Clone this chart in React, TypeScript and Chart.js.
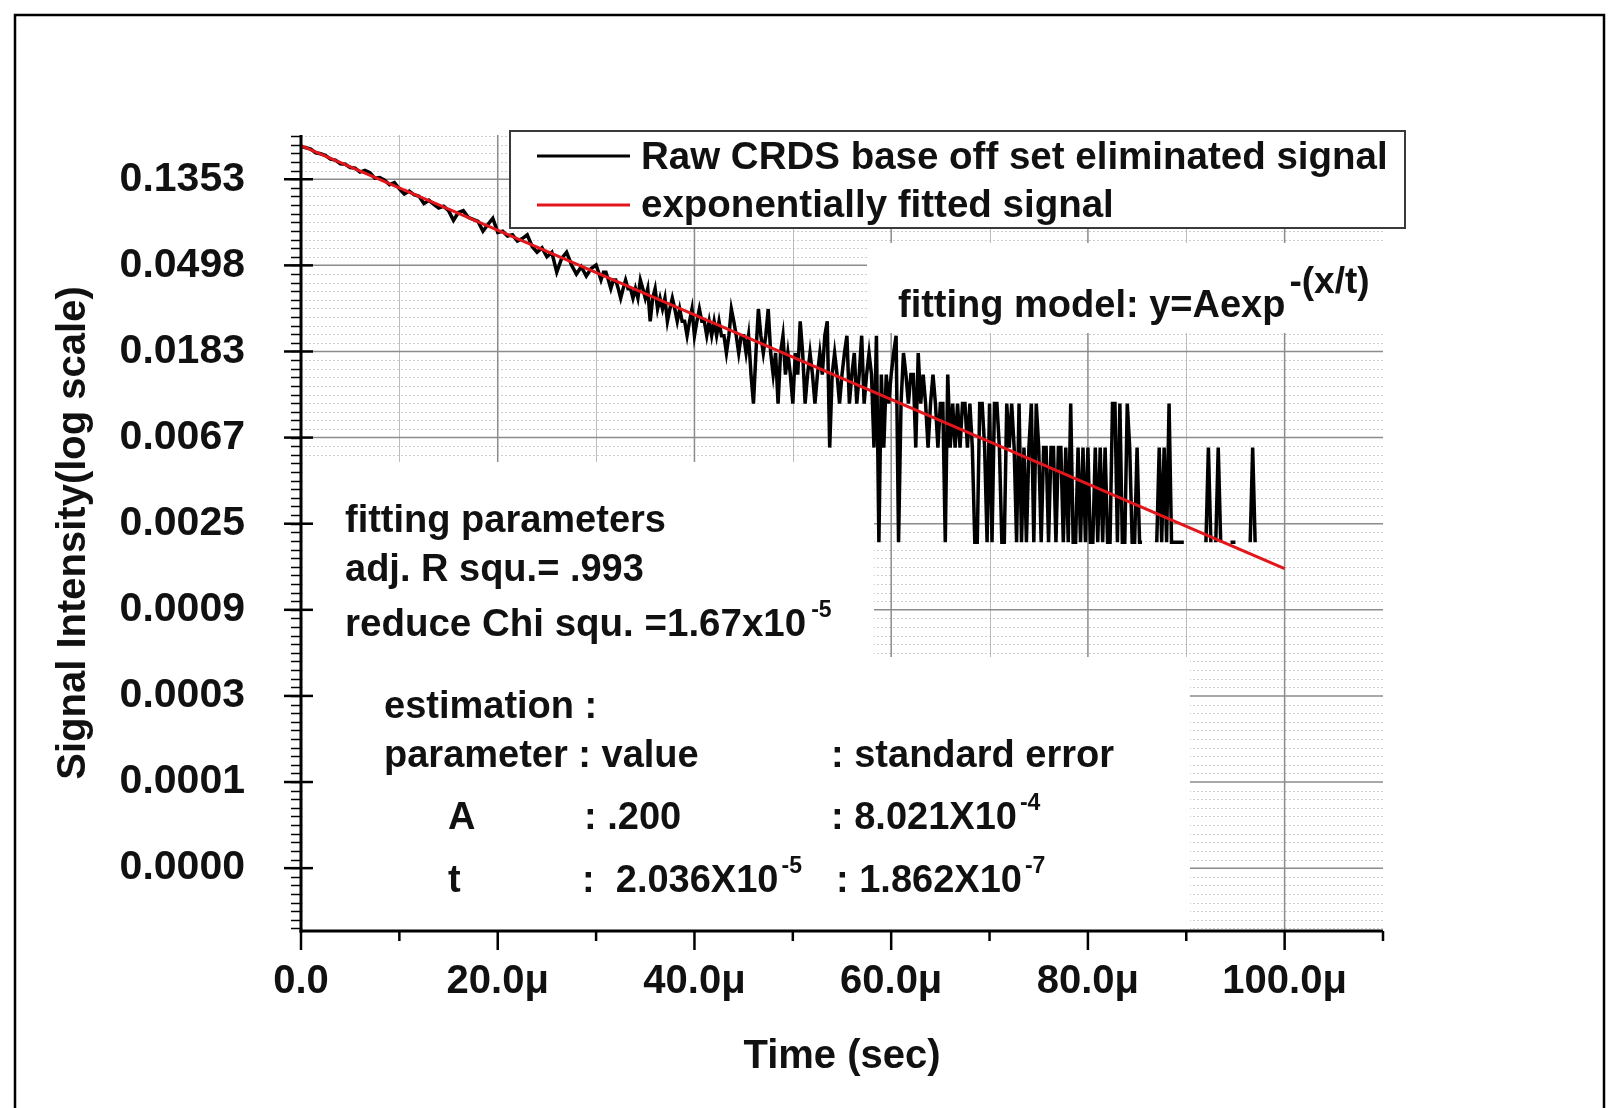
import React, { useEffect, useRef } from "react";
import { Chart, registerables } from "chart.js";

Chart.register(...registerables);

const FONT = '"Liberation Sans", Arial, Helvetica, sans-serif';
const W = 1609;
const H = 1108;

// ---------- data (time in microseconds, signal in volts-like units) ----------
const EARLY_START_US = 0;
const EARLY_STEP_US = 0.5;
const EARLY_SIGNAL = [
  0.199, 0.195, 0.192, 0.184, 0.182, 0.178, 0.171, 0.169, 0.162, 0.161,
  0.155, 0.154, 0.147, 0.150, 0.146, 0.137, 0.138, 0.134, 0.127, 0.130,
  0.121, 0.114, 0.118, 0.113, 0.111, 0.102, 0.106, 0.101, 0.097, 0.099,
  0.094, 0.084, 0.092, 0.094, 0.087, 0.085, 0.083, 0.074, 0.080, 0.086,
  0.073, 0.074, 0.070, 0.071, 0.066, 0.068, 0.071, 0.062, 0.058, 0.061,
  0.055, 0.058, 0.046, 0.054, 0.058, 0.050, 0.045, 0.049, 0.044, 0.048,
];

const LATE_START_US = 30;
const LATE_STEP_US = 0.25;
const LATE_SIGNAL: (number | null)[] = [
  0.050, 0.046, 0.042, 0.046, 0.046, 0.042, 0.038, 0.042,
  0.042, 0.038, 0.034, 0.038, 0.042, 0.038, 0.038, 0.034,
  0.038, 0.034, 0.042, 0.038, 0.034, 0.038, 0.026, 0.034,
  0.038, 0.030, 0.034, 0.030, 0.034, 0.026, 0.030, 0.034,
  0.030, 0.026, 0.030, 0.026, 0.026, 0.022, 0.026, 0.030,
  0.022, 0.026, 0.030, 0.026, 0.026, 0.022, 0.026, 0.022,
  0.026, 0.022, 0.026, 0.022, 0.022, 0.018, 0.022, 0.030,
  0.026, 0.022, 0.018, 0.022, 0.022,
  0.018, 0.022, 0.014, 0.010, 0.018, 0.030, 0.022, 0.018,
  0.022, 0.030, 0.018, 0.014, 0.018, 0.010, 0.018, 0.022,
  0.014, 0.018, 0.014, 0.010, 0.018, 0.014, 0.026, 0.018,
  0.010, 0.014, 0.018, 0.014, 0.010, 0.014, 0.018, 0.014,
  0.022, 0.026, 0.006, 0.014, 0.018, 0.014, 0.010, 0.014,
  0.018, 0.022, 0.010, 0.014, 0.018, 0.010, 0.014, 0.022,
  0.010, 0.014, 0.018, 0.014, 0.006, 0.022, 0.002, 0.014,
  0.006, 0.014, 0.010, 0.014, 0.018, 0.022, 0.002, 0.010,
  0.018, 0.014, 0.010, 0.014, 0.014, 0.006, 0.018, 0.010,
  0.014, 0.010, 0.006, 0.010, 0.014, 0.010, 0.006, 0.010,
  0.010, 0.002, 0.014, 0.006, 0.010, 0.006, 0.010, 0.006,
  0.010, 0.010, 0.006, 0.010, 0.006, 0.002, 0.002, 0.010,
  0.010, 0.006, 0.002, 0.010, 0.002, 0.010, 0.010, 0.006,
  0.002, 0.002, 0.010, 0.006, 0.010, 0.006, 0.002, 0.010,
  0.002, 0.006, 0.002, 0.006, 0.010, 0.002, 0.010, 0.006,
  0.002, 0.006, 0.006, 0.002, 0.006, 0.006, 0.002, 0.006,
  0.006, 0.002, 0.006, 0.002, 0.010, 0.002, 0.002, 0.006,
  0.002, 0.006, 0.002, 0.006, 0.002, 0.002, 0.006, 0.002,
  0.006, 0.002, 0.006, 0.002, 0.002, 0.010, 0.010, 0.002,
  0.010, 0.002, 0.002, 0.010, 0.006, 0.002, 0.002, 0.006,
  0.002, 0.002, null, null, null, null, null, 0.002,
  0.006, 0.002, 0.006, 0.002, 0.010, 0.002, 0.002, 0.002,
  0.002, 0.002, 0.002, null, null, null, null, null,
  null, null, null, 0.002, 0.006, 0.002, null, 0.002,
  0.006, 0.002, null, null, null, 0.002, 0.002, 0.002,
  null, null, null, null, null, 0.002, 0.006, 0.002,
];

// exponential fit y = A exp(-x/t), A = .200, t = 20.36 us: values at its two ends
const FIT_TIME_US = [0, 100];
const FIT_SIGNAL = [0.2, 0.00147];

// ---------- axes ----------
const X_RANGE_US = [0, 110];
const X_LABEL_TICKS = [0, 20, 40, 60, 80, 100];
const X_MINOR_TICKS = [10, 30, 50, 70, 90, 110];
const Y_RANGE_EXPONENTS = [-10.73, -1.486];
const Y_TICK_EXPONENTS = [-2, -3, -4, -5, -6, -7, -8, -9, -10];

const SERIES_LABELS = [
  "Raw CRDS base off set eliminated signal",
  "exponentially fitted signal",
];
const X_TITLE = "Time (sec)";
const Y_TITLE = "Signal Intensity(log scale)";

const bold = (size: number) => `bold ${size}px ${FONT}`;

function hLine(ctx: CanvasRenderingContext2D, x1: number, x2: number, y: number) {
  ctx.beginPath();
  ctx.moveTo(x1, y);
  ctx.lineTo(x2, y);
  ctx.stroke();
}
function vLine(ctx: CanvasRenderingContext2D, x: number, y1: number, y2: number) {
  ctx.beginPath();
  ctx.moveTo(x, y1);
  ctx.lineTo(x, y2);
  ctx.stroke();
}

function textWithSup(
  ctx: CanvasRenderingContext2D,
  text: string,
  sup: string,
  x: number,
  y: number,
  size = 38,
  supSize = 23,
  supRise = 19,
  gap = 3
) {
  ctx.font = bold(size);
  ctx.fillText(text, x, y);
  const w = ctx.measureText(text).width;
  if (sup) {
    ctx.font = bold(supSize);
    ctx.fillText(sup, x + w + gap, y - supRise);
  }
}

const decorPlugin = {
  id: "decor",
  beforeDatasetsDraw(chart: any) {
    const { ctx, chartArea: a, scales } = chart;
    const xs = scales.x;
    const ys = scales.y;
    ctx.save();
    // minor dotted horizontal grid (every 0.1 in ln units)
    ctx.strokeStyle = "#cdcdcd";
    ctx.lineWidth = 1;
    ctx.setLineDash([2, 2]);
    const k0 = Math.ceil(Y_RANGE_EXPONENTS[0] * 10);
    const k1 = Math.floor(Y_RANGE_EXPONENTS[1] * 10);
    for (let k = k0; k <= k1; k++) {
      if (k % 10 === 0) continue;
      const py = Math.round(ys.getPixelForValue(Math.exp(k / 10))) + 0.5;
      hLine(ctx, a.left, a.right, py);
    }
    ctx.setLineDash([]);
    // light vertical lines at odd multiples of 10 us
    ctx.strokeStyle = "#bdbdbd";
    ctx.lineWidth = 1;
    X_MINOR_TICKS.forEach((v) => {
      if (v >= X_RANGE_US[1]) return;
      const px = Math.round(xs.getPixelForValue(v)) + 0.5;
      vLine(ctx, px, a.top, a.bottom);
    });
    // major grid
    ctx.strokeStyle = "#8c8c8c";
    ctx.lineWidth = 1.5;
    X_LABEL_TICKS.forEach((v) => {
      if (v === 0) return;
      const px = xs.getPixelForValue(v);
      vLine(ctx, px, a.top, a.bottom);
    });
    Y_TICK_EXPONENTS.forEach((e) => {
      const py = ys.getPixelForValue(Math.exp(e));
      hLine(ctx, a.left, a.right, py);
    });
    // white backgrounds behind the annotation blocks
    ctx.fillStyle = "#ffffff";
    ctx.fillRect(a.left + 2, 462, 874 - a.left - 2, a.bottom - 462 - 1);
    ctx.fillRect(874, 657, 1190 - 874, a.bottom - 657 - 1);
    ctx.fillRect(867, 243, a.right - 867 + 2, 333 - 243);
    ctx.restore();
  },
  afterDatasetsDraw(chart: any) {
    const { ctx, chartArea: a, scales } = chart;
    const xs = scales.x;
    const ys = scales.y;
    ctx.save();
    ctx.strokeStyle = "#000";
    // y minor ticks (outward)
    ctx.lineWidth = 1.5;
    const k0 = Math.ceil(Y_RANGE_EXPONENTS[0] * 10);
    const k1 = Math.floor(Y_RANGE_EXPONENTS[1] * 10);
    for (let k = k0; k <= k1; k++) {
      const py = Math.round(ys.getPixelForValue(Math.exp(k / 10))) + 0.5;
      hLine(ctx, a.left - 10, a.left, py);
    }
    // y major ticks (crossing)
    ctx.lineWidth = 2.5;
    Y_TICK_EXPONENTS.forEach((e) => {
      const py = ys.getPixelForValue(Math.exp(e));
      hLine(ctx, a.left - 17, a.left + 12, py);
    });
    // x ticks (outward)
    X_LABEL_TICKS.forEach((v) => {
      vLine(ctx, xs.getPixelForValue(v), a.bottom, a.bottom + 19);
    });
    ctx.lineWidth = 2.5;
    X_MINOR_TICKS.forEach((v) => {
      vLine(ctx, xs.getPixelForValue(v), a.bottom, a.bottom + 10);
    });
    // axis lines
    ctx.lineWidth = 3;
    vLine(ctx, a.left, a.top, a.bottom + 1.5);
    hLine(ctx, a.left - 1.5, a.right, a.bottom);

    // legend box
    ctx.fillStyle = "#fff";
    ctx.fillRect(510, 131, 895, 97);
    ctx.strokeStyle = "#3a3a3a";
    ctx.lineWidth = 2;
    ctx.strokeRect(510, 131, 895, 97);
    const rowY = [156, 205];
    const rowBase = [169, 217];
    chart.data.datasets.forEach((ds: any, i: number) => {
      ctx.strokeStyle = ds.borderColor;
      ctx.lineWidth = 3;
      hLine(ctx, 537, 630, rowY[i]);
      ctx.fillStyle = "#111";
      ctx.font = bold(38.5);
      ctx.textBaseline = "alphabetic";
      ctx.fillText(ds.label, 641, rowBase[i]);
    });

    // annotations
    ctx.fillStyle = "#111";
    ctx.textBaseline = "alphabetic";
    ctx.textAlign = "left";
    textWithSup(ctx, "fitting model: y=Aexp", "-(x/t)", 898, 317, 38, 37, 24, 4);
    ctx.font = bold(38);
    ctx.fillText("fitting parameters", 345, 532);
    ctx.fillText("adj. R squ.= .993", 345, 581);
    textWithSup(ctx, "reduce Chi squ. =1.67x10", "-5", 345, 636, 38.5, 23, 19, 5);
    ctx.font = bold(38);
    ctx.fillText("estimation :", 384, 718);
    ctx.fillText("parameter : value", 384, 767);
    ctx.fillText(": standard error", 831, 767);
    ctx.fillText("A", 448, 829);
    ctx.fillText(": .200", 584, 829);
    textWithSup(ctx, ": 8.021X10", "-4", 831, 829);
    ctx.font = bold(38);
    ctx.fillText("t", 448, 892);
    textWithSup(ctx, ":  2.036X10", "-5", 582, 892);
    textWithSup(ctx, ": 1.862X10", "-7", 836, 892);

    // page frame
    ctx.strokeStyle = "#000";
    ctx.lineWidth = 2.5;
    ctx.beginPath();
    ctx.moveTo(15, H + 5);
    ctx.lineTo(15, 15);
    ctx.lineTo(1604, 15);
    ctx.lineTo(1604, H + 5);
    ctx.stroke();
    ctx.restore();
  },
};

export default function App() {
  const canvasRef = useRef<HTMLCanvasElement | null>(null);

  useEffect(() => {
    const canvas = canvasRef.current;
    if (!canvas) return;

    const rawPoints = [
      ...EARLY_SIGNAL.map((v, i) => ({ x: EARLY_START_US + i * EARLY_STEP_US, y: v })),
      ...LATE_SIGNAL.map((v, i) => ({ x: LATE_START_US + i * LATE_STEP_US, y: v })),
    ];
    const fitPoints = FIT_TIME_US.map((t, i) => ({ x: t, y: FIT_SIGNAL[i] }));

    const chart = new Chart(canvas, {
      type: "line",
      data: {
        datasets: [
          {
            label: SERIES_LABELS[0],
            data: rawPoints as any,
            borderColor: "#000000",
            borderWidth: 3.5,
            pointRadius: 0,
            tension: 0,
            spanGaps: false,
            order: 1,
          },
          {
            label: SERIES_LABELS[1],
            data: fitPoints as any,
            borderColor: "#e3161b",
            borderWidth: 3,
            pointRadius: 0,
            tension: 0,
            order: 0,
          },
        ],
      },
      options: {
        animation: false,
        responsive: false,
        maintainAspectRatio: false,
        devicePixelRatio: 1,
        layout: { padding: { left: 16, right: 226, top: 135, bottom: 12 } },
        plugins: {
          legend: { display: false },
          tooltip: { enabled: false },
        },
        scales: {
          x: {
            type: "linear",
            min: X_RANGE_US[0],
            max: X_RANGE_US[1],
            grid: { display: false, drawTicks: false },
            border: { display: false },
            afterBuildTicks: (s: any) => {
              s.ticks = X_LABEL_TICKS.map((v) => ({ value: v }));
            },
            afterFit: (s: any) => {
              s.height = H - 12 - 931;
            },
            ticks: {
              color: "#111",
              font: { family: FONT, size: 40, weight: "bold" },
              padding: 27,
              maxRotation: 0,
              autoSkip: false,
              callback: (v: any) => (Number(v) === 0 ? "0.0" : `${Number(v).toFixed(1)}μ`),
            },
            title: {
              display: true,
              text: X_TITLE,
              color: "#111",
              font: { family: FONT, size: 40, weight: "bold" },
              padding: { top: 0, bottom: 15 },
            },
          },
          y: {
            type: "logarithmic",
            min: Math.exp(Y_RANGE_EXPONENTS[0]),
            max: Math.exp(Y_RANGE_EXPONENTS[1]),
            grid: { display: false, drawTicks: false },
            border: { display: false },
            afterBuildTicks: (s: any) => {
              s.ticks = Y_TICK_EXPONENTS.map((e) => ({ value: Math.exp(e) }));
            },
            afterFit: (s: any) => {
              s.width = 301 - 16;
            },
            ticks: {
              color: "#111",
              font: { family: FONT, size: 41, weight: "bold" },
              padding: 56,
              autoSkip: false,
              callback: (v: any) => Number(v).toFixed(4),
            },
            title: {
              display: true,
              text: Y_TITLE,
              color: "#111",
              font: { family: FONT, size: 40, weight: "bold" },
              padding: { top: 34, bottom: 0 },
            },
          },
        },
      } as any,
      plugins: [decorPlugin],
    });

    return () => chart.destroy();
  }, []);

  return (
    <div
      style={{
        position: "absolute",
        left: 0,
        top: 0,
        width: W,
        height: H,
        background: "#ffffff",
        overflow: "hidden",
      }}
    >
      <canvas ref={canvasRef} width={W} height={H} style={{ display: "block" }} />
    </div>
  );
}
